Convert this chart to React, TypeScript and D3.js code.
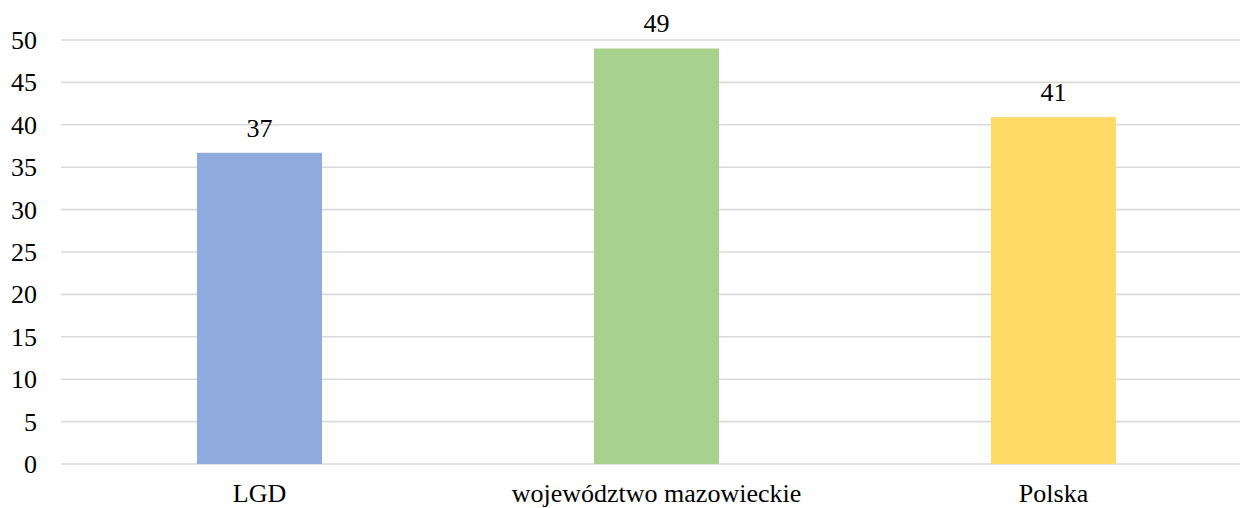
import React from "react";
import * as d3 from "d3";

const categories = ["LGD", "województwo mazowieckie", "Polska"];
const values = [36.7, 49.0, 40.9];
const valueLabels = ["37", "49", "41"];
const colors = ["#8faadc", "#a9d18e", "#ffd966"];
const yTicks = [0, 5, 10, 15, 20, 25, 30, 35, 40, 45, 50];

const W = 1240;
const H = 508;

export default function App() {
  const x = d3
    .scaleBand<string>()
    .domain(categories)
    .range([61, 1252])
    .paddingInner(0.685)
    .paddingOuter(0.3425);
  const y = d3.scaleLinear().domain([0, 50]).range([464, 40]);

  const ts: React.CSSProperties = { fontFamily: '"Liberation Serif"', fontSize: 26 };

  return (
    <svg width={W} height={H} style={{ position: "absolute", left: 0, top: 0, background: "#fff" }}>
      {yTicks.map((t) => (
        <g key={t}>
          <line x1={61} x2={W} y1={y(t)} y2={y(t)} stroke="#d9d9d9" strokeWidth={1.6} />
          <text x={37} y={y(t) + 9} textAnchor="end" style={ts} fill="#000">
            {t}
          </text>
        </g>
      ))}
      {categories.map((c, i) => {
        const bx = x(c)!;
        const bw = x.bandwidth();
        return (
          <g key={c}>
            <rect x={bx} y={y(values[i])} width={bw} height={y(0) - y(values[i])} fill={colors[i]} />
            <text x={bx + bw / 2} y={y(values[i]) - 16} textAnchor="middle" style={ts} fill="#000">
              {valueLabels[i]}
            </text>
            <text x={bx + bw / 2} y={502} textAnchor="middle" style={ts} fill="#000">
              {c}
            </text>
          </g>
        );
      })}
    </svg>
  );
}
